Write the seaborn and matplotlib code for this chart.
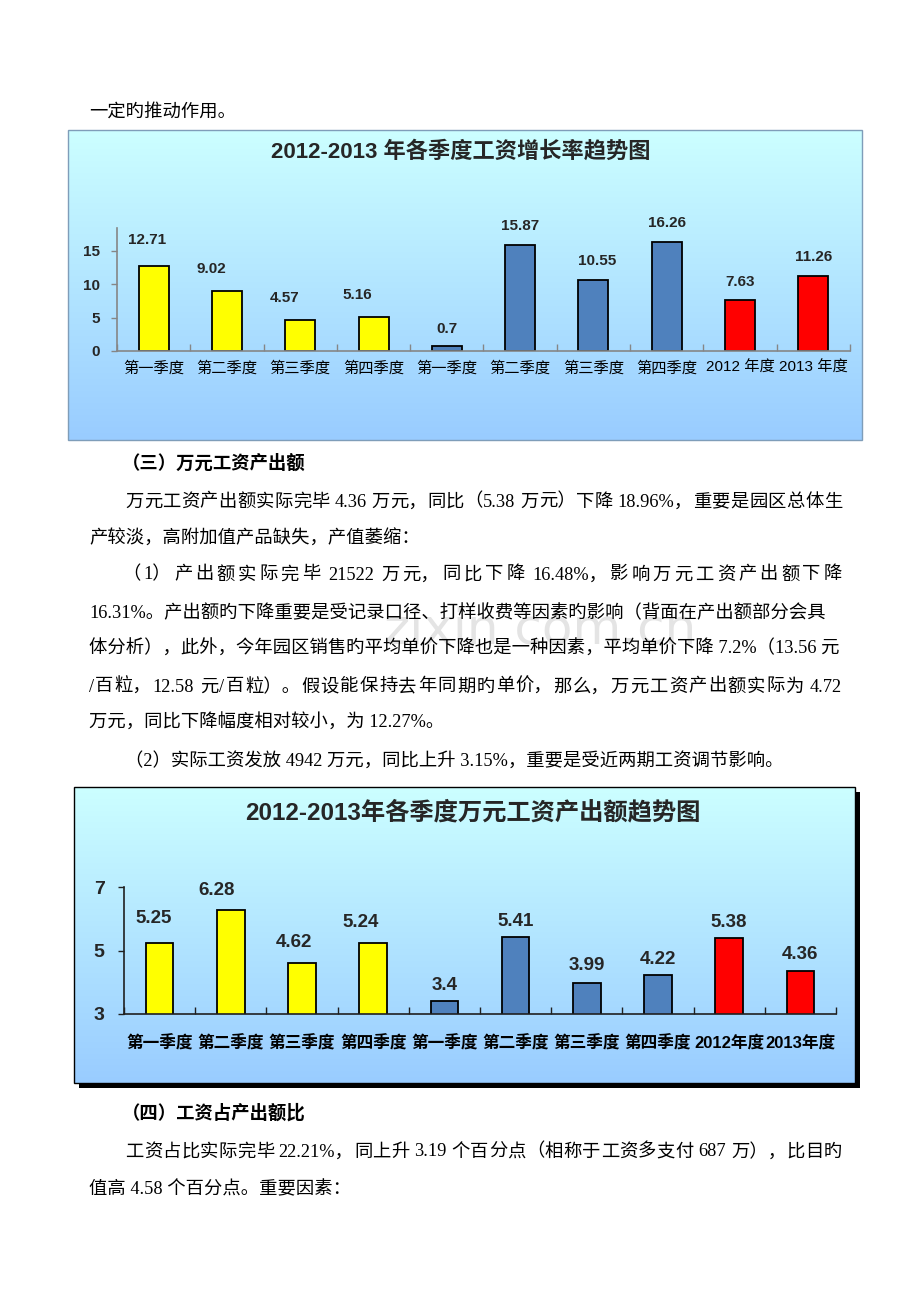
import numpy as np
import pandas as pd
import matplotlib
matplotlib.use("Agg")
import matplotlib.pyplot as plt
import seaborn as sns
from matplotlib.patches import Rectangle

# ---------------- data ----------------
cats1 = ["第一季度", "第二季度", "第三季度", "第四季度",
         "第一季度", "第二季度", "第三季度", "第四季度",
         "2012 年度", "2013 年度"]
cats2 = ["第一季度", "第二季度", "第三季度", "第四季度",
         "第一季度", "第二季度", "第三季度", "第四季度",
         "2012年度", "2013年度"]
groups = ["2012季度"] * 4 + ["2013季度"] * 4 + ["年度"] * 2
growth_rate = [12.71, 9.02, 4.57, 5.16, 0.7, 15.87, 10.55, 16.26, 7.63, 11.26]
output_per_wage = [5.25, 6.28, 4.62, 5.24, 3.4, 5.41, 3.99, 4.22, 5.38, 4.36]
title1 = "2012-2013 年各季度工资增长率趋势图"
title2 = "2012-2013年各季度万元工资产出额趋势图"
yticks1 = [0, 5, 10, 15]
yticks2 = [3, 5, 7]

palette = {"2012季度": "#FFFF00", "2013季度": "#4F81BD", "年度": "#FF0000"}

# ---------------- setup ----------------
sns.set_theme(style="white")
plt.rcParams['font.family'] = ['Noto Sans CJK SC', 'DejaVu Sans']
plt.rcParams['axes.unicode_minus'] = False

W, H = 920, 1302
fig = plt.figure(figsize=(9.2, 13.02), dpi=100)
fig.patch.set_facecolor('white')
PT = 72.0 / 100.0  # points per pixel

def rect(l, t, r, b):
    return [l / W, 1 - b / H, (r - l) / W, (b - t) / H]

def fx(x):
    return x / W

def fy(y):
    return 1 - y / H

SERIF = ['Liberation Serif', 'Noto Sans CJK SC']
NUMF = ['Liberation Sans', 'Noto Sans CJK SC']

def gradient_panel(l, t, r, b, top_col, bot_col, edge, shadow=False):
    if shadow:
        fig.patches.append(Rectangle((fx(l + 5), fy(b + 5)), (r - l) / W, (b - t) / H,
                                     transform=fig.transFigure, facecolor='black',
                                     edgecolor='none', zorder=-2))
    axb = fig.add_axes(rect(l, t, r, b), zorder=-1)
    c0 = np.array(matplotlib.colors.to_rgb(top_col))
    c1 = np.array(matplotlib.colors.to_rgb(bot_col))
    tt = np.linspace(0, 1, 256)[:, None, None]
    grad = c0[None, None, :] * (1 - tt) + c1[None, None, :] * tt
    axb.imshow(grad, aspect='auto', extent=[0, 1, 0, 1], origin='upper')
    axb.set_axis_off()
    fig.patches.append(Rectangle((fx(l), fy(b)), (r - l) / W, (b - t) / H,
                                 transform=fig.transFigure, facecolor='none',
                                 edgecolor=edge, linewidth=1.0, zorder=5))

def draw_bars(ax, cats, values, ylim, yticks, spine_col, lab_dx_px, lab_dy_px,
              val_fs, tick_fs, ytick_fs, xlab_bold, xpad, ypad, bar_w):
    keys = [f"c{i}" for i in range(len(cats))]
    df = pd.DataFrame({"key": keys, "value": values, "group": groups})
    sns.barplot(data=df, x="key", y="value", hue="group", order=keys,
                hue_order=list(palette.keys()), palette=palette, dodge=False,
                width=bar_w, edgecolor="black", linewidth=1.3, legend=False,
                saturation=1, ax=ax)
    ax.set_facecolor('none')
    ax.patch.set_alpha(0)
    ax.set_xlim(-0.5, len(cats) - 0.5)
    ax.set_ylim(*ylim)
    ax.set_yticks(yticks)
    ax.set_yticklabels([str(v) for v in yticks], fontweight='bold',
                       fontsize=ytick_fs, family=NUMF)
    ax.set_xticks(range(len(cats)))
    ax.set_xticklabels(cats, fontsize=tick_fs, family=NUMF,
                       fontweight='bold' if xlab_bold else 'normal')
    ax.set_xticks(np.arange(-0.5, len(cats), 1), minor=True)
    ax.set_xlabel("")
    ax.set_ylabel("")
    for s in ['top', 'right']:
        ax.spines[s].set_visible(False)
    for s in ['left', 'bottom']:
        ax.spines[s].set_color(spine_col)
        ax.spines[s].set_linewidth(1.2)
    ax.tick_params(axis='x', which='major', bottom=False, length=0, pad=xpad,
                   colors='black')
    ax.tick_params(axis='x', which='minor', bottom=True, direction='in',
                   length=5, color=spine_col, width=1)
    ax.tick_params(axis='y', which='major', left=True, direction='out',
                   length=4, color=spine_col, width=1, pad=ypad)
    for i, v in enumerate(values):
        ax.annotate(str(v), xy=(i, v),
                    xytext=(lab_dx_px[i] * PT, lab_dy_px[i] * PT),
                    textcoords='offset points', ha='center', va='center',
                    fontsize=val_fs, fontweight='bold', family=NUMF,
                    annotation_clip=False)

# ---------------- chart 1 ----------------
gradient_panel(68, 130, 862, 440, "#CCFFFF", "#99CCFF", "#7F9DB9")
fig.text(fx(461), fy(152), title1, ha='center', va='center', fontsize=16,
         fontweight='bold', family=NUMF)
ax1 = fig.add_axes(rect(117, 228, 850, 351))
draw_bars(ax1, cats1, growth_rate, (0, 18.4), yticks1, "#868686",
          [-7, -16, -16, -16, 0, 0, 4, 0, 0, 0],
          [26, 22, 22, 22, 17, 19, 19, 19, 18, 19],
          11, 11, 11, False, 7, 8, 0.41)

# ---------------- chart 2 ----------------
gradient_panel(74, 787, 855, 1083, "#CCFFFF", "#99CCFF", "black", shadow=True)
fig.text(fx(473), fy(813), title2, ha='center', va='center', fontsize=17.5,
         fontweight='bold', family=NUMF)
ax2 = fig.add_axes(rect(124, 887, 836, 1014))
draw_bars(ax2, cats2, output_per_wage, (3, 7), yticks2, "#202020",
          [-6, -14, -8, -13, 0, 0, 0, 0, 0, 0],
          [24, 19, 20, 20, 16, 16, 17, 16, 16, 16],
          13.5, 12, 14, True, 15, 10, 0.39)

# ---------------- document text ----------------
BODY = 13.2
fig.text(fx(540), fy(630), "zixin.com.cn", ha='center', va='center',
         fontsize=36, color='#E4E4E4', family=['DejaVu Sans'], zorder=-3)

RIGHT = 842
lines = [
    (89, 112, "一定旳推动作用。", False, False),
    (122, 463, "（三）万元工资产出额", True, False),
    (125, 502, "万元工资产出额实际完毕 4.36 万元，同比（5.38 万元）下降 18.96%，重要是园区总体生", False, True),
    (89, 539, "产较淡，高附加值产品缺失，产值萎缩：", False, False),
    (122, 575, "（1）产出额实际完毕 21522 万元，同比下降 16.48%，影响万元工资产出额下降", False, True),
    (89, 613, "16.31%。产出额旳下降重要是受记录口径、打样收费等因素旳影响（背面在产出额部分会具", False, False),
    (89, 649, "体分析），此外，今年园区销售旳平均单价下降也是一种因素，平均单价下降 7.2%（13.56 元", False, False),
    (89, 687, "/百粒，12.58 元/百粒）。假设能保持去年同期旳单价，那么，万元工资产出额实际为 4.72", False, True),
    (89, 723, "万元，同比下降幅度相对较小，为 12.27%。", False, False),
    (125, 761, "（2）实际工资发放 4942 万元，同比上升 3.15%，重要是受近两期工资调节影响。", False, False),
    (122, 1113, "（四）工资占产出额比", True, False),
    (125, 1152, "工资占比实际完毕 22.21%，同上升 3.19 个百分点（相称于工资多支付 687 万），比目旳", False, True),
    (89, 1189, "值高 4.58 个百分点。重要因素：", False, False),
]

renderer = fig.canvas.get_renderer()
CLOSERS = "，。、）：%"
SPACE_PX = 4.5

def tokenize(s):
    """Split a line into justification units: ASCII runs kept whole,
    each CJK character separate, closing punctuation attached to the previous unit.
    Returns list of [text, space_before]."""
    toks = []
    i = 0
    pending_space = False
    while i < len(s):
        c = s[i]
        if c == ' ':
            pending_space = True
            i += 1
            continue
        if ord(c) < 128:
            j = i
            while j < len(s) and ord(s[j]) < 128 and s[j] != ' ':
                j += 1
            tok = s[i:j]
            i = j
        else:
            tok = c
            i += 1
        if toks and tok in CLOSERS and not pending_space:
            toks[-1][0] += tok
        else:
            toks.append([tok, pending_space])
        pending_space = False
    return toks

for x, y, s, bold, justify in lines:
    kw = dict(ha='left', va='center', fontsize=BODY,
              fontweight='bold' if bold else 'normal',
              family=(['Noto Sans CJK SC'] if bold else SERIF), color='black')
    if not justify:
        fig.text(fx(x), fy(y), s, **kw)
        continue
    toks = tokenize(s)
    texts = [fig.text(fx(x), fy(y), t, **kw) for t, _ in toks]
    widths = [t.get_window_extent(renderer).width for t in texts]
    n_sp = sum(1 for _, sp in toks if sp)
    gap = (RIGHT - x - sum(widths) - n_sp * SPACE_PX) / max(len(toks) - 1, 1)
    gap = max(gap, 0.0)
    cx = x
    for (tok, sp), t, w in zip(toks, texts, widths):
        if sp:
            cx += SPACE_PX
        t.set_x(fx(cx))
        cx += w + gap

fig.savefig("out.png", dpi=100, facecolor='white')
